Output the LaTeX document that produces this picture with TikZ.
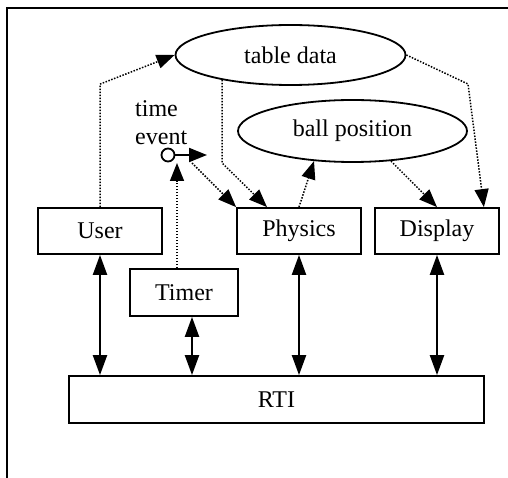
\documentclass[tikz,border=0pt]{standalone}
\usepackage{fontspec}
\setmainfont{Liberation Serif}
\usetikzlibrary{shapes.geometric,arrows.meta,calc}
\begin{document}
\begin{tikzpicture}[x=1pt,y=-1pt,
  every node/.style={font=\fontsize{24}{28}\selectfont},
  box/.style={draw,line width=1.8pt,rectangle,inner sep=0pt,minimum height=46pt},
  data/.style={draw,line width=1.8pt,ellipse,inner sep=0pt},
  head/.style={-{Triangle[length=18pt,width=14pt]}},
  flow/.style={head,line width=1.5pt,dash pattern=on 1.5pt off 1.5pt},
  link/.style={{Triangle[length=20pt,width=14pt]}-{Triangle[length=20pt,width=14pt]},line width=2.2pt},
]
\useasboundingbox (0,0) rectangle (508,478);

% frame
\draw[line width=2.2pt] (7,478) -- (7,8) -- (508,8);

% shared data
\node[data,minimum width=230pt,minimum height=60pt] (tabledata) at (290.5,55) {table data};
\node[data,minimum width=229pt,minimum height=62pt] (ballpos) at (352.5,131) {ball position};

% time event interaction
\node[align=left,anchor=base west,inner sep=0pt] (telabel) at (135,145) {time\\event};
\node[draw,circle,line width=1.8pt,minimum size=13pt,inner sep=0pt] (te) at (168,155) {};
\coordinate (teout) at (207,155);
\coordinate (tein) at (177,163);

% federates
\node[box,minimum width=124pt] (user) at (100,231) {User};
\node[box,minimum width=124pt] (physics) at (299,231) {Physics};
\node[box,minimum width=124pt] (display) at (437,231) {Display};
\node[box,minimum width=108pt,minimum height=47pt] (timer) at (184,292.5) {Timer};
\node[box,minimum width=415pt,minimum height=47pt] (rti) at (276.5,399.5) {RTI};

% publish / subscribe flows
\draw[flow] (user.north) -- ++(0,-123) -- (tabledata.west);
\draw[flow] (tabledata.east) -- (468,84) -- ([xshift=-16pt]display.north east);
\draw[flow] (tabledata.200) -- ++(0,83) -- ([xshift=-32pt]physics.north);
\draw[flow] ([shift={(24,8)}]te.center) -- (physics.north west);
\draw[flow] ([xshift=-7pt]timer.north) -- (tein);
\draw[flow] (physics.north) -- (ballpos.218);
\draw[flow] (ballpos.322) -- (display.north);
\draw[head,line width=2pt] (te.east) -- (teout);

% RTI connections
\draw[link] (user.south) -- (user.south |- rti.north);
\draw[link] ([xshift=8pt]timer.south) -- ([xshift=8pt]timer.south |- rti.north);
\draw[link] (physics.south) -- (physics.south |- rti.north);
\draw[link] (display.south) -- (display.south |- rti.north);
\end{tikzpicture}
\end{document}
